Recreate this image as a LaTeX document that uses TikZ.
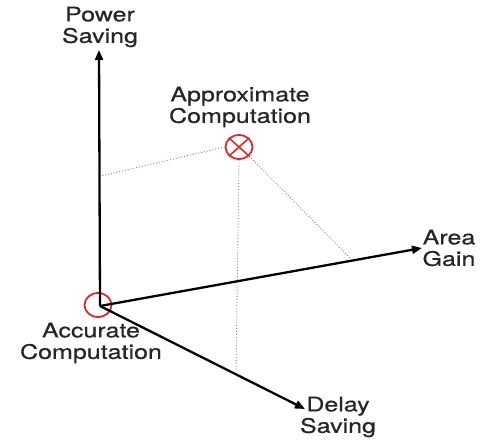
\documentclass[tikz,border=0pt]{standalone}
\usepackage{fontspec}
\setmainfont[FakeStretch=1.25,FakeBold=0.6]{TeX Gyre Heros}
\usetikzlibrary{arrows.meta,shapes.geometric}
\definecolor{cred}{HTML}{E02828}
\begin{document}
\begin{tikzpicture}[x=1pt,y=-1pt,
  axis/.style={line width=2.3pt,-{Triangle[length=10pt,width=8pt]}},
  guide/.style={gray,dotted,line width=0.9pt},
  lbl/.style={font=\fontsize{20}{21.5}\selectfont,align=center,inner sep=0pt,text=black!85},
  mk/.style={ellipse,draw=cred,line width=1.8pt,minimum width=27pt,minimum height=24pt,inner sep=0pt}]
\useasboundingbox (0,0) rectangle (481,439);
\coordinate (O) at (100,306);
\coordinate (P) at (99,50);
\coordinate (A) at (422,248);
\coordinate (D) at (305,409);
\coordinate (Pp) at (101,176);
\coordinate (Dp) at (236,372);
\coordinate (Ap) at (351,259);
\node[mk] (acc) at (98,305) {};
\node[mk] (apx) at (239,147) {};
\draw[cred,line width=1.6pt] (apx.north west) -- (apx.south east) (apx.north east) -- (apx.south west);
\draw[guide] (apx.west) -- (Pp);
\draw[guide] (apx.south) -- (Dp);
\draw[guide] (apx.south east) -- (Ap);
\draw[axis] (O) -- (P);
\draw[axis] (O) -- (A);
\draw[axis] (O) -- (D);
\node[lbl] (tp) at (100,27) {Power\\Saving};
\node[lbl] (ta) at (240,107) {Approximate\\Computation};
\node[lbl] (tc) at (91,343) {Accurate\\Computation};
\node[lbl] (tg) at (449,248) {Area\\Gain};
\node[lbl] (td) at (338,417) {Delay\\Saving};
\end{tikzpicture}
\end{document}
